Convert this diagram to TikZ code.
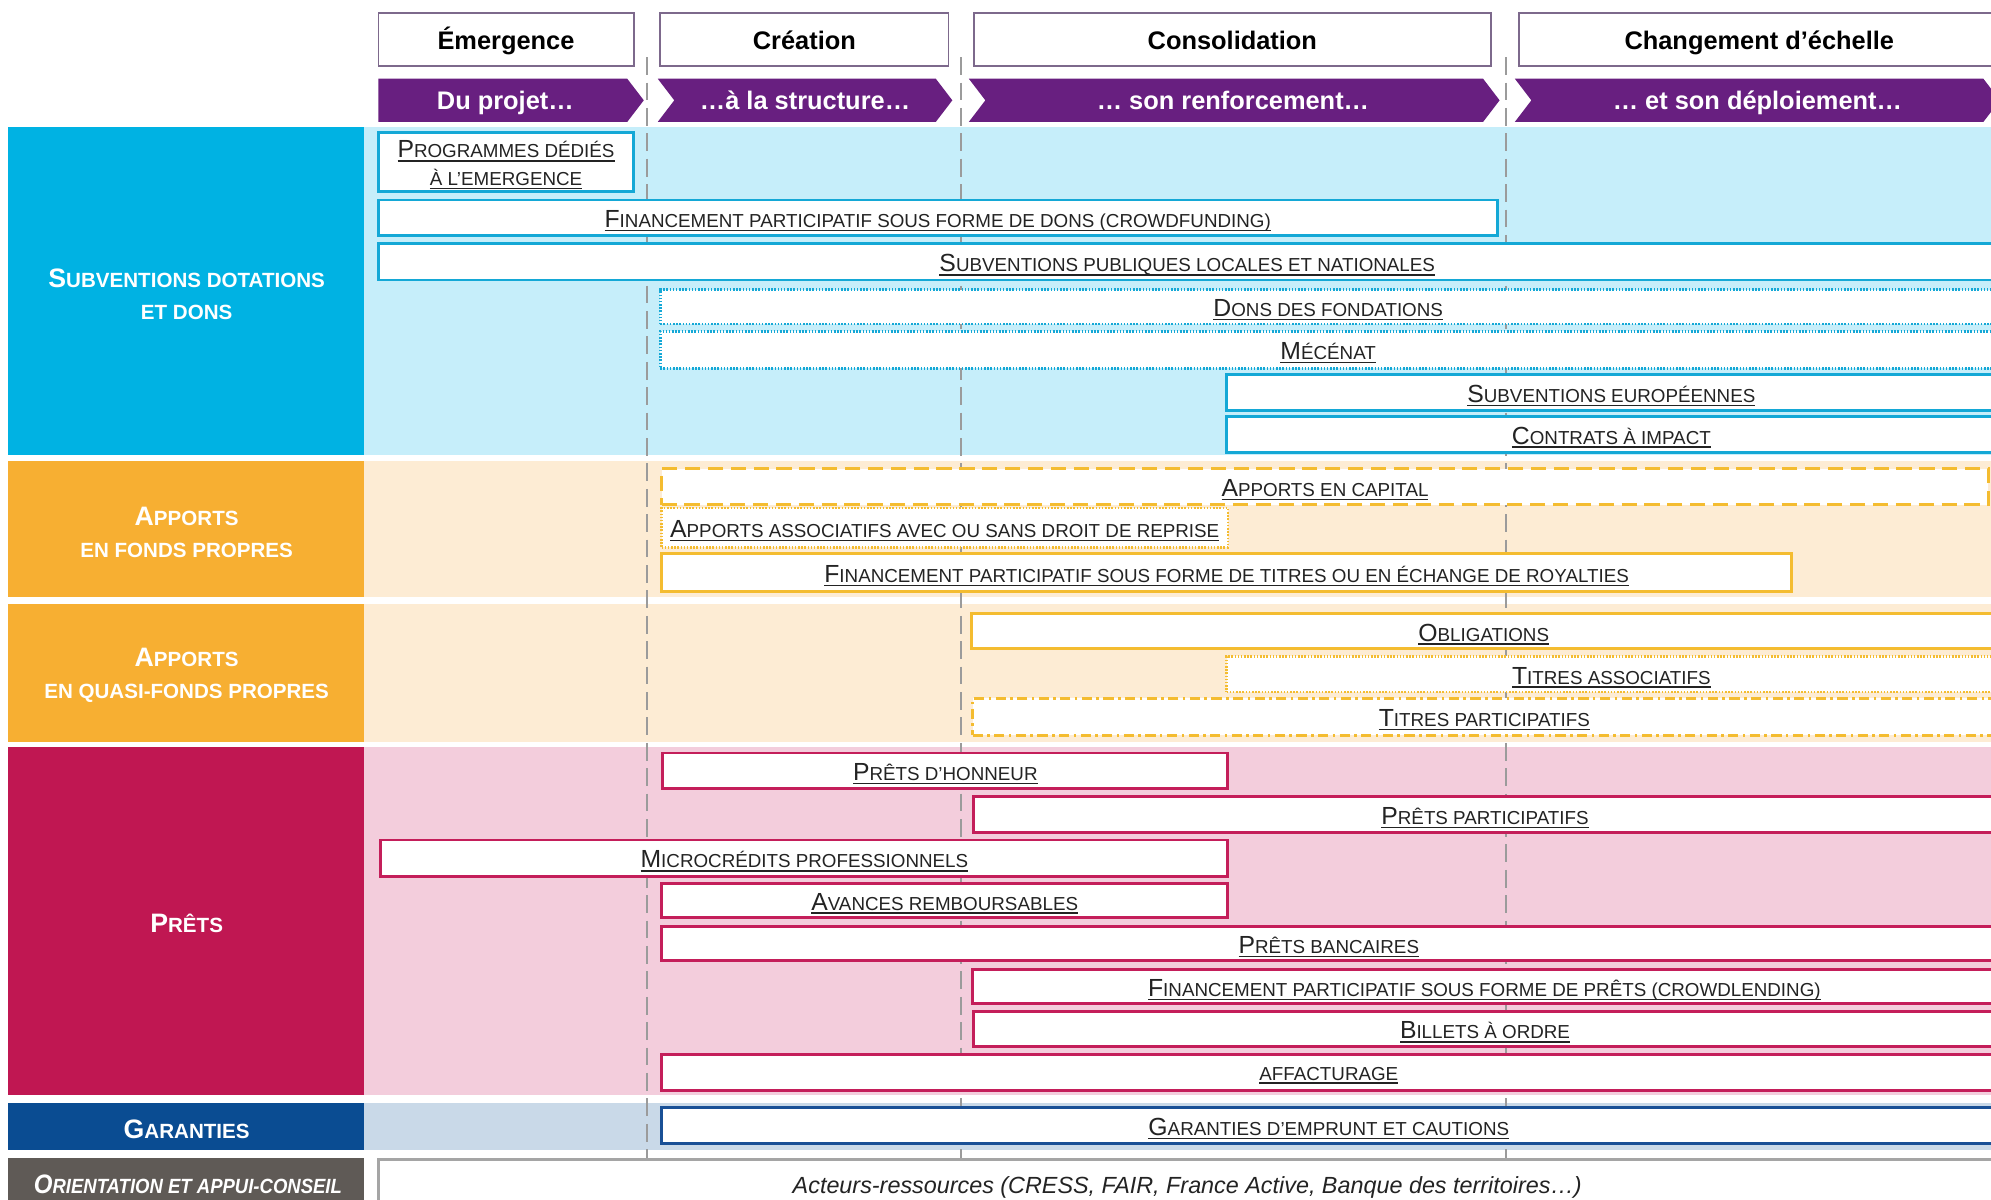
\documentclass[tikz,border=0pt]{standalone}
\usepackage{fontspec}
\setmainfont{Liberation Sans}
\newfontfamily\condfont[FakeStretch=0.9]{Liberation Sans}

\definecolor{cyanP}{RGB}{0,178,227}
\definecolor{cyanBg}{RGB}{198,238,250}
\definecolor{cyanB}{RGB}{20,168,214}
\definecolor{orP}{RGB}{247,175,50}
\definecolor{orBg}{RGB}{253,236,212}
\definecolor{orB}{RGB}{244,188,48}
\definecolor{crP}{RGB}{192,23,82}
\definecolor{crBg}{RGB}{243,205,220}
\definecolor{crB}{RGB}{196,30,90}
\definecolor{nvP}{RGB}{10,76,146}
\definecolor{nvBg}{RGB}{201,217,232}
\definecolor{nvB}{RGB}{25,80,150}
\definecolor{gyP}{RGB}{95,90,86}
\definecolor{gyB}{RGB}{165,165,165}
\definecolor{purA}{RGB}{104,31,128}
\definecolor{purB}{RGB}{125,105,140}
\definecolor{vlineC}{RGB}{155,155,155}
\definecolor{txt}{RGB}{35,35,35}

\newcommand\Lg{\fontsize{19.5}{22}\selectfont}
\newcommand\Sm{\fontsize{14.8}{22}\selectfont}
\newcommand\Dn[1]{\raisebox{-2.5pt}[\height][\depth]{#1}}
\newcommand\UL[1]{\setbox0\hbox{#1}\rlap{\raisebox{-3pt}{\color{txt}\rule{\wd0}{1.2pt}}}\box0}
\newcommand\SCx[2]{\Dn{\UL{{\Lg #1}{\Sm #2}}}}
\newcommand\SCs[1]{\Dn{\UL{{\Sm #1}}}}
\newcommand\Lb{\fontsize{21}{25}\selectfont}
\newcommand\Sb{\fontsize{16.2}{25}\selectfont}
\newcommand\Bx[7]{\node[#1, minimum width={(#5)-(#3)}, minimum height={(#6)-(#4)}] (#2) at ({((#3)+(#5))/2},{((#4)+(#6))/2}) {#7};}

\begin{document}
\begin{tikzpicture}[x=1pt,y=-1pt,
  box/.style={draw, fill=white, line width=2.3pt, inner sep=0pt, outer sep=0pt, text=txt, font=\Sm, align=center},
  cyanbox/.style={box, draw=cyanB},
  cyandot/.style={box, draw=cyanB, line width=2pt, dash pattern=on 1.2pt off 1.3pt},
  orbox/.style={box, draw=orB},
  ordot/.style={box, draw=orB, line width=2pt, dash pattern=on 1.2pt off 1.3pt},
  ordash/.style={box, draw=orB, line width=2.5pt, dash pattern=on 12pt off 6pt},
  ordashdot/.style={box, draw=orB, line width=2.3pt, dash pattern=on 8pt off 3.5pt on 2pt off 3.5pt},
  crbox/.style={box, draw=crB},
  nvbox/.style={box, draw=nvB},
  gybox/.style={box, draw=gyB, line width=2.6pt},
  panel/.style={inner sep=0pt, outer sep=0pt},
  paneltext/.style={inner sep=0pt, text=white, font=\Sb\bfseries, align=center},
  hdr/.style={draw=purB, fill=white, line width=1.4pt, inner sep=0pt, outer sep=0pt, text=black, font=\fontsize{20}{24}\selectfont\bfseries, text height=17pt, text depth=1pt},
  arrtxt/.style={inner sep=0pt, text=white, font=\fontsize{20}{24}\selectfont\bfseries, text height=14.5pt, text depth=4.2pt, yshift=-2pt},
  vl/.style={draw=vlineC, line width=1.4pt, dash pattern=on 14pt off 6pt}
]
\useasboundingbox (0,0) rectangle (1568,945);
\clip (0,0) rectangle (1568,945);

% row backgrounds
\fill[cyanBg] (287,100) rectangle (1568,358.5);
\fill[orBg] (287,363) rectangle (1568,470.5);
\fill[orBg] (287,476) rectangle (1568,584);
\fill[crBg] (287,588.5) rectangle (1568,862.5);
\fill[nvBg] (287,868.5) rectangle (1568,906);

% left panels
\node[panel, fill=cyanP, minimum width=281, minimum height=258.5] (lab1) at (146.5,229.25) {};
\node[panel, fill=orP, minimum width=281, minimum height=107.5] (lab2) at (146.5,416.75) {};
\node[panel, fill=orP, minimum width=281, minimum height=108] (lab3) at (146.5,530) {};
\node[panel, fill=crP, minimum width=281, minimum height=274] (lab4) at (146.5,725.5) {};
\node[panel, fill=nvP, minimum width=281, minimum height=37.5] (lab5) at (146.5,887.25) {};
\node[panel, fill=gyP, minimum width=281, minimum height=40] (lab6) at (146.5,932) {};
\node[paneltext] (lab1t) at (147,232) {{\Lb S}UBVENTIONS DOTATIONS\\ET DONS};
\node[paneltext] (lab2t) at (147,419.5) {{\Lb A}PPORTS\\EN FONDS PROPRES};
\node[paneltext] (lab3t) at (147,532) {{\Lb A}PPORTS\\EN QUASI-FONDS PROPRES};
\node[paneltext] (lab4t) at (147,727) {{\Lb P}RÊTS};
\node[paneltext] (lab5t) at (147,889) {{\Lb G}ARANTIES};
\node[paneltext] (lab6t) at (148,933) {\condfont\bfseries\itshape{\Lb O}RIENTATION ET APPUI-CONSEIL};

% header boxes
\node[hdr, minimum width=201, minimum height=42] (h1) at (398.5,31) {Émergence};
\node[hdr, minimum width=227, minimum height=42] (h2) at (633.5,31) {Création};
\node[hdr, minimum width=407, minimum height=42] (h3) at (970.5,31) {Consolidation};
\node[hdr, minimum width=379, minimum height=42] (h4) at (1385.5,31) {Changement d’échelle};

% phase arrows
\fill[purA] (298,62) -- (494,62) -- (507,79) -- (494,96) -- (298,96) -- cycle;
\node[arrtxt] (a1) at (398,79) {Du projet…};
\fill[purA] (518,62) -- (737,62) -- (750,79) -- (737,96) -- (518,96) -- (531,79) -- cycle;
\node[arrtxt] (a2) at (634,79) {…à la structure…};
\fill[purA] (763,62) -- (1168,62) -- (1181,79) -- (1168,96) -- (763,96) -- (776,79) -- cycle;
\node[arrtxt] (a3) at (971,79) {… son renforcement…};
\fill[purA] (1193,62) -- (1562,62) -- (1575,79) -- (1562,96) -- (1193,96) -- (1206,79) -- cycle;
\node[arrtxt] (a4) at (1384,79) {… et son déploiement…};

% dashed phase separators
\coordinate (v1t) at (509.5,45); \coordinate (v1b) at (509.5,945);
\coordinate (v2t) at (757,45);   \coordinate (v2b) at (757,945);
\coordinate (v3t) at (1186,45);  \coordinate (v3b) at (1186,945);
\draw[vl] (v1t) -- (v1b);
\draw[vl] (v2t) -- (v2b);
\draw[vl] (v3t) -- (v3b);

% Subventions
\Bx{cyanbox}{b1}{298}{104}{499}{151}{\SCx{P}{ROGRAMMES DÉDIÉS}\\\SCs{À L'EMERGENCE}}
\Bx{cyanbox}{b2}{298}{157.5}{1179}{185.5}{\SCx{F}{INANCEMENT PARTICIPATIF SOUS FORME DE DONS (CROWDFUNDING)}}
\Bx{cyanbox}{b3}{298}{192}{1572}{220.5}{\SCx{S}{UBVENTIONS PUBLIQUES LOCALES ET NATIONALES}}
\Bx{cyandot}{b4}{520}{228}{1572}{255}{\SCx{D}{ONS DES FONDATIONS}}
\Bx{cyandot}{b5}{520}{261}{1572}{290}{\SCx{M}{ÉCÉNAT}}
\Bx{cyanbox}{b6}{966}{295}{1572}{323}{\SCx{S}{UBVENTIONS EUROPÉENNES}}
\Bx{cyanbox}{b7}{966}{328}{1572}{356}{\SCx{C}{ONTRATS À IMPACT}}

% Fonds propres
\Bx{ordash}{b8}{521}{369}{1566}{397.5}{\SCx{A}{PPORTS EN CAPITAL}}
\Bx{ordot}{b9}{521}{400}{967}{431}{\SCx{A}{PPORTS ASSOCIATIFS AVEC OU SANS DROIT DE REPRISE}}
\Bx{orbox}{b10}{521}{436}{1411}{466}{\SCx{F}{INANCEMENT PARTICIPATIF SOUS FORME DE TITRES OU EN ÉCHANGE DE ROYALTIES}}

% Quasi-fonds propres
\Bx{orbox}{b11}{765}{483}{1572}{511}{\SCx{O}{BLIGATIONS}}
\Bx{ordot}{b12}{966}{517}{1572}{545}{\SCx{T}{ITRES ASSOCIATIFS}}
\Bx{ordashdot}{b13}{766}{550}{1572}{579}{\SCx{T}{ITRES PARTICIPATIFS}}

% Prets
\Bx{crbox}{b14}{522}{593}{967}{621}{\SCx{P}{RÊTS D'HONNEUR}}
\Bx{crbox}{b15}{767}{627.5}{1572}{655.5}{\SCx{P}{RÊTS PARTICIPATIFS}}
\Bx{crbox}{b16}{300}{661.5}{967}{690}{\SCx{M}{ICROCRÉDITS PROFESSIONNELS}}
\Bx{crbox}{b17}{521}{695.5}{967}{722.5}{\SCx{A}{VANCES REMBOURSABLES}}
\Bx{crbox}{b18}{521}{729.5}{1572}{756.5}{\SCx{P}{RÊTS BANCAIRES}}
\Bx{crbox}{b19}{766}{763.5}{1572}{790.5}{\SCx{F}{INANCEMENT PARTICIPATIF SOUS FORME DE PRÊTS (CROWDLENDING)}}
\Bx{crbox}{b20}{767}{796.5}{1572}{824.5}{\SCx{B}{ILLETS À ORDRE}}
\Bx{crbox}{b21}{521}{830.5}{1572}{858.5}{\SCs{AFFACTURAGE}}

% Garanties
\Bx{nvbox}{b22}{521}{872}{1572}{900.5}{\SCx{G}{ARANTIES D'EMPRUNT ET CAUTIONS}}

% Orientation
\Bx{gybox}{b23}{298}{913}{1572}{952}{\Dn{\fontsize{18.4}{22}\selectfont\itshape Acteurs-ressources (CRESS, FAIR, France Active, Banque des territoires…)}}
\end{tikzpicture}
\end{document}
